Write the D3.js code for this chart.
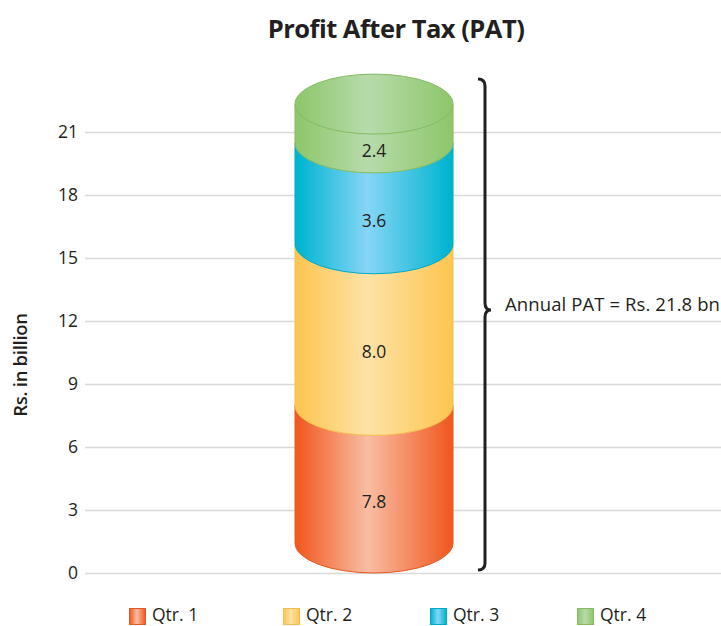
<!DOCTYPE html>
<html lang="en">
<head>
  <title>Profit After Tax (PAT)</title>
  <style type="text/css">
    html, body { margin: 0; padding: 0; background: #fff; overflow: hidden; }
    svg { display: block; }
    text { font-family: "Open Sans", "Noto Sans", sans-serif; fill: #231f20; }
    .tick line { stroke: #d9d9d9; stroke-width: 1.3; }
  </style>
  <script src="https://cdnjs.cloudflare.com/ajax/libs/d3/7.8.5/d3.min.js"></script>
</head>
<body>
  <div id="chart"></div>
  <script>
  var quarters = ["Qtr. 1", "Qtr. 2", "Qtr. 3", "Qtr. 4"];
  // printed labels
  var labels = ["7.8", "8.0", "3.6", "2.4"];
  // where each segment's front edge sits against the axis
  // (the drawing is not to scale with its printed labels)
  var segmentBase = [0, 6.55, 14.25, 19.05];
  var segmentTop = [6.55, 14.25, 19.05, 20.9];
  var ticks = [0, 3, 6, 9, 12, 15, 18, 21];
  var edgeColors = ["#f15a22", "#fdc652", "#00b5d0", "#8fc76c"];
  var midColors = ["#f9bda3", "#fde2a6", "#86d5f6", "#b7dbab"];
  var lineColors = ["#e4591f", "#f3bd4c", "#00abc6", "#84bb63"];
  var legendX = [129, 283, 430, 577];

  var w = 721, h = 626;
  var rx = 79, ry = 30;

  var svg = d3.select("#chart").append("svg")
    .attr("width", w)
    .attr("height", h);

  var y = d3.scaleLinear().domain([0, 21]).range([573, 132]);
  var x = d3.scaleBand().domain(["PAT"]).range([295, 453]);
  var left = x("PAT"), right = left + x.bandwidth();

  // gradients, lighter just left of centre
  var defs = svg.append("defs");
  quarters.forEach(function(q, i) {
    var g = defs.append("linearGradient")
      .attr("id", "grad" + i)
      .attr("x1", "0").attr("x2", "1").attr("y1", "0").attr("y2", "0");
    g.append("stop").attr("offset", "0.02").attr("stop-color", edgeColors[i]);
    g.append("stop").attr("offset", "0.46").attr("stop-color", midColors[i]);
    g.append("stop").attr("offset", "0.98").attr("stop-color", edgeColors[i]);
  });

  svg.append("text")
    .attr("x", 396).attr("y", 38)
    .attr("text-anchor", "middle")
    .style("font-size", "25.5px")
    .style("font-weight", "700")
    .style("letter-spacing", "-0.5px")
    .text("Profit After Tax (PAT)");

  // axis with gridlines
  var axis = svg.append("g")
    .attr("transform", "translate(85,0)")
    .call(d3.axisLeft(y).tickValues(ticks).tickSize(-636).tickPadding(7));
  axis.select(".domain").remove();
  axis.selectAll("text").style("font-size", "17.5px").style("font-family", null);

  svg.append("text")
    .attr("transform", "translate(27,365) rotate(-90)")
    .attr("text-anchor", "middle")
    .style("font-size", "18.5px")
    .style("font-weight", "600")
    .style("letter-spacing", "-0.3px")
    .text("Rs. in billion");

  // one section of the cylinder: sides, and the rounded front edge at the bottom
  function segment(i) {
    var front = y(segmentBase[i]);
    var sideBottom = front - ry;
    var sideTop = y(segmentTop[i]) - ry;
    return "M" + left + "," + sideTop +
      "L" + left + "," + sideBottom +
      "A" + rx + "," + ry + " 0 0 0 " + right + "," + sideBottom +
      "L" + right + "," + sideTop + "Z";
  }

  svg.selectAll("path.segment")
    .data(quarters)
    .enter()
    .append("path")
    .attr("class", "segment")
    .attr("d", function(d, i) { return segment(i); })
    .attr("fill", function(d, i) { return "url(#grad" + i + ")"; })
    .attr("stroke", function(d, i) { return lineColors[i]; })
    .attr("stroke-width", 1);

  // top of the cylinder
  svg.append("ellipse")
    .attr("cx", left + rx)
    .attr("cy", y(segmentTop[3]) - ry)
    .attr("rx", rx)
    .attr("ry", ry)
    .attr("fill", "url(#grad3)")
    .attr("stroke", lineColors[3])
    .attr("stroke-width", 1);

  svg.selectAll("text.value")
    .data(labels)
    .enter()
    .append("text")
    .attr("class", "value")
    .attr("x", left + rx)
    .attr("y", function(d, i) { return (y(segmentBase[i]) + y(segmentTop[i])) / 2; })
    .attr("dy", "0.2em")
    .attr("text-anchor", "middle")
    .style("font-size", "17.5px")
    .text(function(d) { return d; });

  // curly bracket
  var b = d3.path();
  b.moveTo(478, 79);
  b.quadraticCurveTo(485, 79, 485, 86);
  b.lineTo(485, 303);
  b.quadraticCurveTo(485, 310, 491, 310);
  b.quadraticCurveTo(485, 310, 485, 317);
  b.lineTo(485, 563);
  b.quadraticCurveTo(485, 570, 478, 570);
  svg.append("path")
    .attr("d", b.toString())
    .attr("fill", "none")
    .attr("stroke", "#231f20")
    .attr("stroke-width", 3);

  svg.append("text")
    .attr("x", 505).attr("y", 311)
    .style("font-size", "18.5px")
    .style("letter-spacing", "0.1px")
    .text("Annual PAT = Rs. 21.8 bn");

  // legend, kept just above the bottom edge so the text isn't clipped
  var legend = svg.selectAll("g.legend")
    .data(quarters)
    .enter()
    .append("g")
    .attr("class", "legend")
    .attr("transform", function(d, i) { return "translate(" + legendX[i] + ",608)"; });

  legend.append("rect")
    .attr("x", 0.5).attr("y", 0.5)
    .attr("width", 16).attr("height", 16)
    .attr("fill", function(d, i) { return "url(#grad" + i + ")"; })
    .attr("stroke", function(d, i) { return lineColors[i]; });

  legend.append("text")
    .attr("x", 23).attr("y", 12.5)
    .style("font-size", "17.5px")
    .text(function(d) { return d; });
  </script>
</body>
</html>
